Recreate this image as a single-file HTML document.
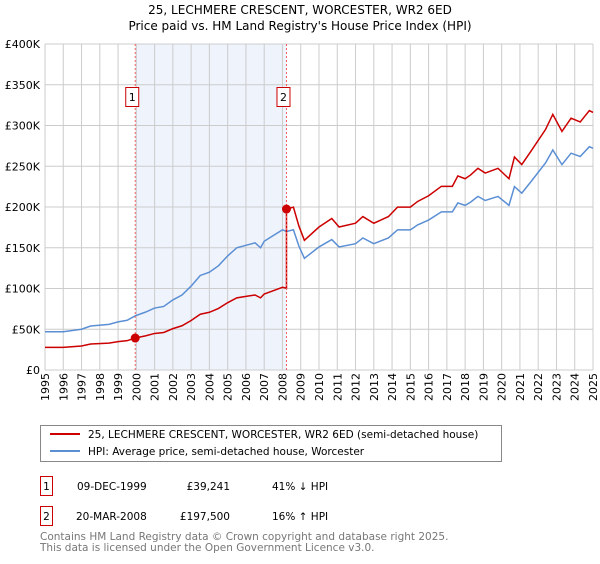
<!DOCTYPE html>
<html><head><meta charset="utf-8"><style>
body{margin:0;background:#fff;width:600px;height:560px;overflow:hidden;font-family:"DejaVu Sans","Liberation Sans",sans-serif;}
svg text{font-family:"DejaVu Sans","Liberation Sans",sans-serif;}
</style></head><body>
<svg id="c" width="600" height="560">
<text x="300" y="14" text-anchor="middle" font-size="12" fill="#000">25, LECHMERE CRESCENT, WORCESTER, WR2 6ED</text>
<text x="300" y="30" text-anchor="middle" font-size="12" fill="#000">Price paid vs. HM Land Registry's House Price Index (HPI)</text>
<g id="grid"></g><g id="marks"></g>
<g>
<rect x="40.5" y="425.5" width="461" height="36" fill="#fff" stroke="#888"/>
<line x1="50" y1="434" x2="80" y2="434" stroke="#cc0000" stroke-width="2"/>
<text x="88" y="438" font-size="10.5">25, LECHMERE CRESCENT, WORCESTER, WR2 6ED (semi-detached house)</text>
<line x1="50" y1="451" x2="80" y2="451" stroke="#5b8fd4" stroke-width="2"/>
<text x="88" y="455" font-size="10.5">HPI: Average price, semi-detached house, Worcester</text>
</g>
<g font-size="10.5">
<rect x="40.5" y="476.5" width="12" height="19" fill="#fff" stroke="#cc0000"/>
<text x="46.5" y="490" text-anchor="middle">1</text>
<text x="77" y="490">09-DEC-1999</text>
<text x="230" y="490" text-anchor="end">£39,241</text>
<text x="272" y="490">41% ↓ HPI</text>
<rect x="40.5" y="506.5" width="12" height="19" fill="#fff" stroke="#cc0000"/>
<text x="46.5" y="520" text-anchor="middle">2</text>
<text x="76" y="520">20-MAR-2008</text>
<text x="230" y="520" text-anchor="end">£197,500</text>
<text x="272" y="520">16% ↑ HPI</text>
</g>
<text x="40" y="540" font-size="10.5" fill="#777">Contains HM Land Registry data © Crown copyright and database right 2025.</text>
<text x="40" y="551" font-size="10.5" fill="#777">This data is licensed under the Open Government Licence v3.0.</text>
</svg>
<script>
const hpiYears=[1995,1996,1997,1997.5,1998.5,1999,1999.5,1999.94,2000.5,2001,2001.5,2002,2002.5,2003,2003.5,2004,2004.5,2005,2005.5,2006,2006.5,2006.8,2007,2007.5,2008,2008.22,2008.6,2008.9,2009.2,2010,2010.7,2011.1,2012,2012.4,2013,2013.8,2014.3,2015,2015.4,2016,2016.7,2017.3,2017.6,2018,2018.3,2018.7,2019.1,2019.8,2020.4,2020.7,2021.1,2021.6,2022.4,2022.8,2023.3,2023.8,2024.3,2024.8,2025];
const hpiValues=[47000,47000,50000,54000,56000,59000,61000,66500,71000,76000,78000,86000,92000,103000,116000,120000,128000,140000,150000,153000,156000,150000,158000,165000,172000,170000,172000,152000,137000,151000,160000,151000,155000,162000,155000,162000,172000,172000,178000,184000,194000,194000,205000,202000,206000,213000,208000,213000,202000,225000,217000,231000,254000,270000,252000,266000,262000,274000,272000];
const saleYears=[1999.94,2008.22];
const salePrices=[39241,197500];
const yTicks=[0,50000,100000,150000,200000,250000,300000,350000,400000];
const yTickLabels=["£0","£50K","£100K","£150K","£200K","£250K","£300K","£350K","£400K"];
const xTicks=[1995,1996,1997,1998,1999,2000,2001,2002,2003,2004,2005,2006,2007,2008,2009,2010,2011,2012,2013,2014,2015,2016,2017,2018,2019,2020,2021,2022,2023,2024,2025];

const NS="http://www.w3.org/2000/svg";
const X0=45,X1=593,Y0=370,Y1=44;
const xs=y=>X0+(y-1995)/30*(X1-X0);
const ys=v=>Y0-v/400000*(Y0-Y1);
function mk(t,a,p){const e=document.createElementNS(NS,t);for(const k in a)e.setAttribute(k,a[k]);p.appendChild(e);return e;}
const grid=document.getElementById('grid'),marks=document.getElementById('marks');
const shade=mk('rect',{x:xs(saleYears[0]),y:Y1,width:xs(saleYears[1])-xs(saleYears[0]),height:Y0-Y1,fill:'#eef3fc'},grid);


xTicks.forEach(t=>{
  mk('line',{x1:xs(t),x2:xs(t),y1:Y1,y2:Y0,stroke:'#ccc'},grid);
  const px=xs(t)+4,py=Y0+31;
  const tx=mk('text',{x:px,y:py,'font-size':'11',transform:'rotate(-90 '+px+' '+py+')'},grid);
  tx.textContent=t;
  
  
});
yTicks.forEach((t,i)=>{
  mk('line',{x1:X0,x2:X1,y1:ys(t),y2:ys(t),stroke:'#ccc'},grid);
  const tx=mk('text',{x:X0-5,y:ys(t)+4,'font-size':'11','text-anchor':'end'},grid);
  tx.textContent=yTickLabels[i];
  
  
});
function hpiAt(t){for(let i=1;i<hpiYears.length;i++){if(t<=hpiYears[i]){const f=(t-hpiYears[i-1])/(hpiYears[i]-hpiYears[i-1]);return hpiValues[i-1]+f*(hpiValues[i]-hpiValues[i-1]);}}return hpiValues[hpiValues.length-1];}
const hp=mk('polyline',{points:hpiYears.map((y,i)=>xs(y)+','+ys(hpiValues[i])).join(' '),fill:'none',stroke:'#5b8fd4','stroke-width':'1.5'},marks);


const f1=salePrices[0]/hpiAt(saleYears[0]),f2=salePrices[1]/hpiAt(saleYears[1]);
const rp=[];
hpiYears.forEach((y,i)=>{if(y<saleYears[1])rp.push([y,hpiValues[i]*f1]);});
rp.push([saleYears[1],hpiAt(saleYears[1])*f1]);
rp.push([saleYears[1],salePrices[1]]);
hpiYears.forEach((y,i)=>{if(y>saleYears[1])rp.push([y,hpiValues[i]*f2]);});
const pl=mk('polyline',{points:rp.map(p=>xs(p[0])+','+ys(p[1])).join(' '),fill:'none',stroke:'#cc0000','stroke-width':'1.5'},marks);


saleYears.forEach((y,i)=>{
  const ln=mk('line',{x1:xs(y),x2:xs(y),y1:Y1,y2:Y0,stroke:'#f06060','stroke-dasharray':'2,2'},marks);
  
  
  const d=mk('circle',{cx:xs(y),cy:ys(salePrices[i]),r:4.5,fill:'#cc0000'},marks);
  
  
  const b=mk('rect',{x:xs(y)-9.5,y:87.5,width:13,height:19,fill:'#fff',stroke:'#cc0000'},marks);
  
  
  const t=mk('text',{x:xs(y)-3,y:101,'font-size':'11','text-anchor':'middle'},marks);
  t.textContent=String(i+1);
  
  
});
</script>
</body></html>
